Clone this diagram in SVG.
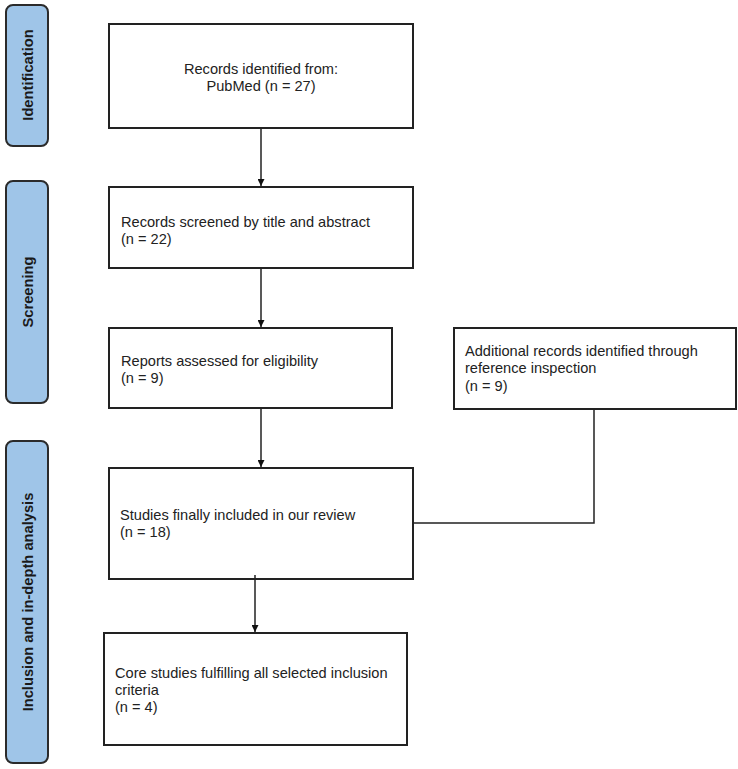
<svg xmlns="http://www.w3.org/2000/svg" width="738" height="769" viewBox="0 0 738 769">
<style>
.stage rect{fill:#9fc5e8;stroke:#2b2b2b;stroke-width:2}
.stage text{font-family:"Liberation Sans",Arial,sans-serif;font-weight:bold;font-size:14.7px;fill:#1a1a1a;text-anchor:middle}
.node rect{fill:#fff;stroke:#222;stroke-width:2}
.node text{font-family:"Liberation Sans",Arial,sans-serif;font-size:14.6px;fill:#222}
.conn{fill:none;stroke:#222;stroke-width:1.5}
</style>
<defs>
<marker id="arr" viewBox="0 0 10 10" refX="10" refY="5" markerWidth="7" markerHeight="7" orient="auto" markerUnits="userSpaceOnUse">
<path d="M0,0 L10,5 L0,10 z" fill="#111"/>
</marker>
</defs>
<rect width="738" height="769" fill="#fff"/>
<g id="stage-identification" class="stage">
<rect x="6" y="5" width="42" height="141" rx="7"/>
<text transform="translate(32.5,75) rotate(-90)">Identification</text>
</g>
<g id="stage-screening" class="stage">
<rect x="6" y="181" width="42" height="222" rx="7"/>
<text transform="translate(32.5,292) rotate(-90)">Screening</text>
</g>
<g id="stage-inclusion" class="stage">
<rect x="6" y="441" width="42" height="322" rx="7"/>
<text transform="translate(32.5,602) rotate(-90)">Inclusion and in-depth analysis</text>
</g>
<g id="node-records" class="node">
<rect x="109" y="24" width="304" height="104"/>
<text x="261" y="74" text-anchor="middle">Records identified from:</text>
<text x="261" y="91" text-anchor="middle">PubMed (n = 27)</text>
</g>
<g id="node-screened" class="node">
<rect x="109" y="187" width="304" height="81"/>
<text x="121" y="227">Records screened by title and abstract</text>
<text x="121" y="244">(n = 22)</text>
</g>
<g id="node-reports" class="node">
<rect x="109" y="328" width="283" height="80"/>
<text x="121" y="366">Reports assessed for eligibility</text>
<text x="121" y="383">(n = 9)</text>
</g>
<g id="node-additional" class="node">
<rect x="454" y="328" width="282" height="81"/>
<text x="465" y="356">Additional records identified through</text>
<text x="465" y="373">reference inspection</text>
<text x="465" y="391">(n = 9)</text>
</g>
<g id="node-included" class="node">
<rect x="109" y="468" width="304" height="111"/>
<text x="120" y="520">Studies finally included in our review</text>
<text x="120" y="537">(n = 18)</text>
</g>
<g id="node-core" class="node">
<rect x="104" y="633" width="303" height="112"/>
<text x="115" y="678">Core studies fulfilling all selected inclusion</text>
<text x="115" y="695">criteria</text>
<text x="115" y="712">(n = 4)</text>
</g>
<g id="connectors">
<line class="conn" x1="261" y1="128" x2="261" y2="186" marker-end="url(#arr)"/>
<line class="conn" x1="261" y1="268" x2="261" y2="327" marker-end="url(#arr)"/>
<line class="conn" x1="261" y1="408" x2="261" y2="467" marker-end="url(#arr)"/>
<line class="conn" x1="255" y1="575" x2="255" y2="632" marker-end="url(#arr)"/>
<polyline class="conn" points="594,409 594,523 413,523"/>
</g>
</svg>
